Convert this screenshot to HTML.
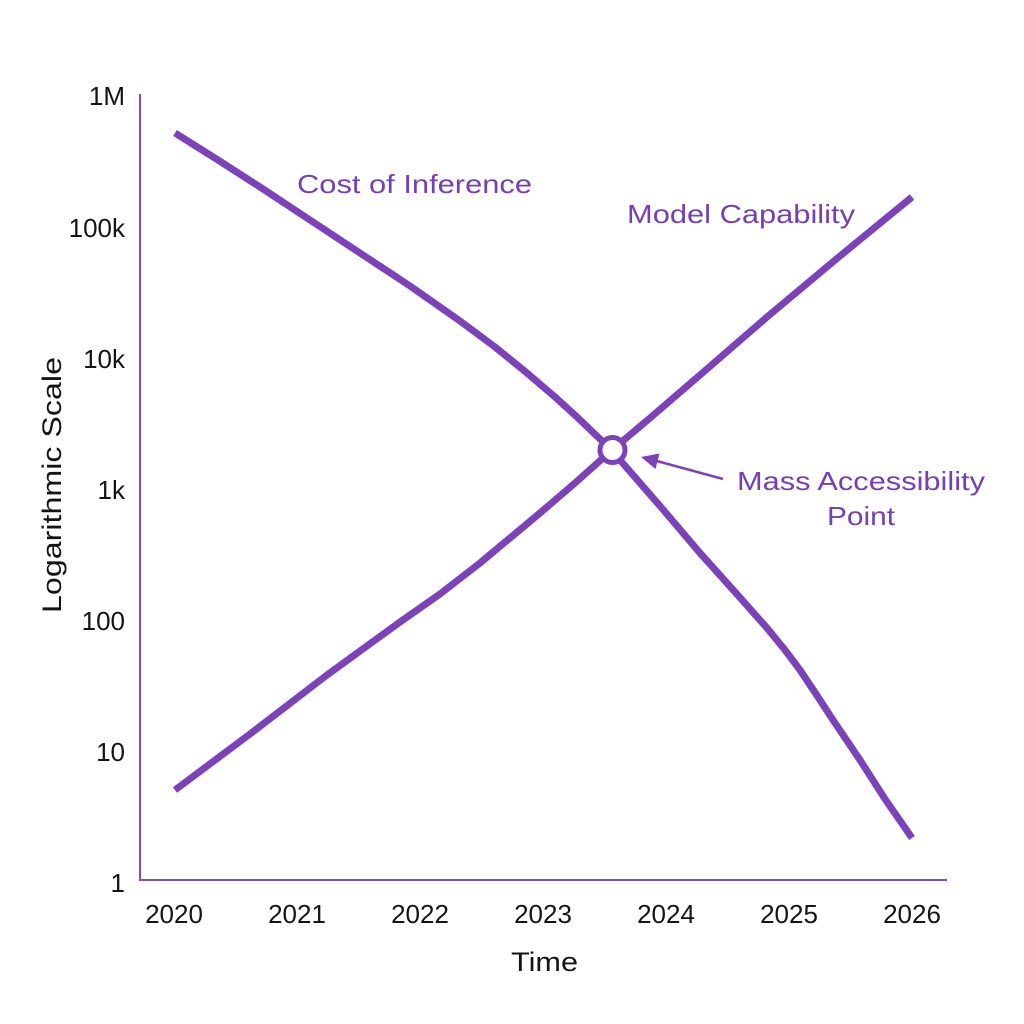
<!DOCTYPE html>
<html>
<head>
<meta charset="utf-8">
<style>
  html, body { margin: 0; padding: 0; background: #ffffff; }
  body { width: 1024px; height: 1024px; overflow: hidden; }
  svg { display: block; }
  text { font-family: "Liberation Sans", "DejaVu Sans", sans-serif; }
</style>
</head>
<body>
<svg width="1024" height="1024" viewBox="0 0 1024 1024" xmlns="http://www.w3.org/2000/svg">
  <rect x="0" y="0" width="1024" height="1024" fill="#ffffff"/>

  <!-- axes -->
  <line x1="140" y1="94" x2="140" y2="881" stroke="#7C4CBC" stroke-width="2"/>
  <line x1="139" y1="880" x2="947" y2="880" stroke="#7C4CBC" stroke-width="2"/>

  <!-- y tick labels -->
  <g font-size="26" fill="#141414" text-anchor="end">
    <text x="125" y="105">1M</text>
    <text x="125" y="237">100k</text>
    <text x="125" y="368">10k</text>
    <text x="125" y="499">1k</text>
    <text x="125" y="630">100</text>
    <text x="125" y="761">10</text>
    <text x="125" y="892">1</text>
  </g>

  <!-- x tick labels -->
  <g font-size="26" fill="#141414" text-anchor="middle">
    <text x="174" y="923">2020</text>
    <text x="297" y="923">2021</text>
    <text x="420" y="923">2022</text>
    <text x="543" y="923">2023</text>
    <text x="666" y="923">2024</text>
    <text x="789" y="923">2025</text>
    <text x="912" y="923">2026</text>
  </g>

  <!-- axis titles -->
  <text x="511" y="971" font-size="27" fill="#141414" textLength="67" lengthAdjust="spacingAndGlyphs">Time</text>
  <text transform="translate(61,613) rotate(-90)" x="0" y="0" font-size="27" fill="#141414" textLength="256" lengthAdjust="spacingAndGlyphs">Logarithmic Scale</text>

  <!-- Cost of Inference curve -->
  <polyline fill="none" stroke="#7B42BA" stroke-width="7" stroke-linejoin="round" stroke-linecap="butt"
    points="175,133 218,160 260,187 310,220 360,253 410,286 460,321 495,347 527,373 555,397 577,417 600,439 612,450 620,460 660,506 700,553 735,592 767,628 785,650 800,670 818,697 833,720 860,760 885,799 912,838"/>

  <!-- Model Capability curve -->
  <polyline fill="none" stroke="#7B42BA" stroke-width="7" stroke-linejoin="round" stroke-linecap="butt"
    points="175,790 250,734 327,675 400,622 440,594 480,563 510,538 540,513 575,483 612,450 650,418 700,375 767,317 840,256 912,197"/>

  <!-- intersection marker -->
  <circle cx="612.5" cy="450" r="12.5" fill="#ffffff" stroke="#7B42BA" stroke-width="5"/>

  <!-- arrow -->
  <line x1="723" y1="479" x2="655" y2="460.5" stroke="#7B42BA" stroke-width="2.5"/>
  <polygon points="641,457 659.5,453.5 655.5,469" fill="#7B42BA"/>

  <!-- series labels -->
  <g font-size="26" fill="#7440B4">
    <text x="297" y="193" textLength="235" lengthAdjust="spacingAndGlyphs">Cost of Inference</text>
    <text x="627" y="223" textLength="228" lengthAdjust="spacingAndGlyphs">Model Capability</text>
    <text x="737" y="490" textLength="248" lengthAdjust="spacingAndGlyphs">Mass Accessibility</text>
    <text x="827" y="525" textLength="68" lengthAdjust="spacingAndGlyphs">Point</text>
  </g>
</svg>
</body>
</html>
